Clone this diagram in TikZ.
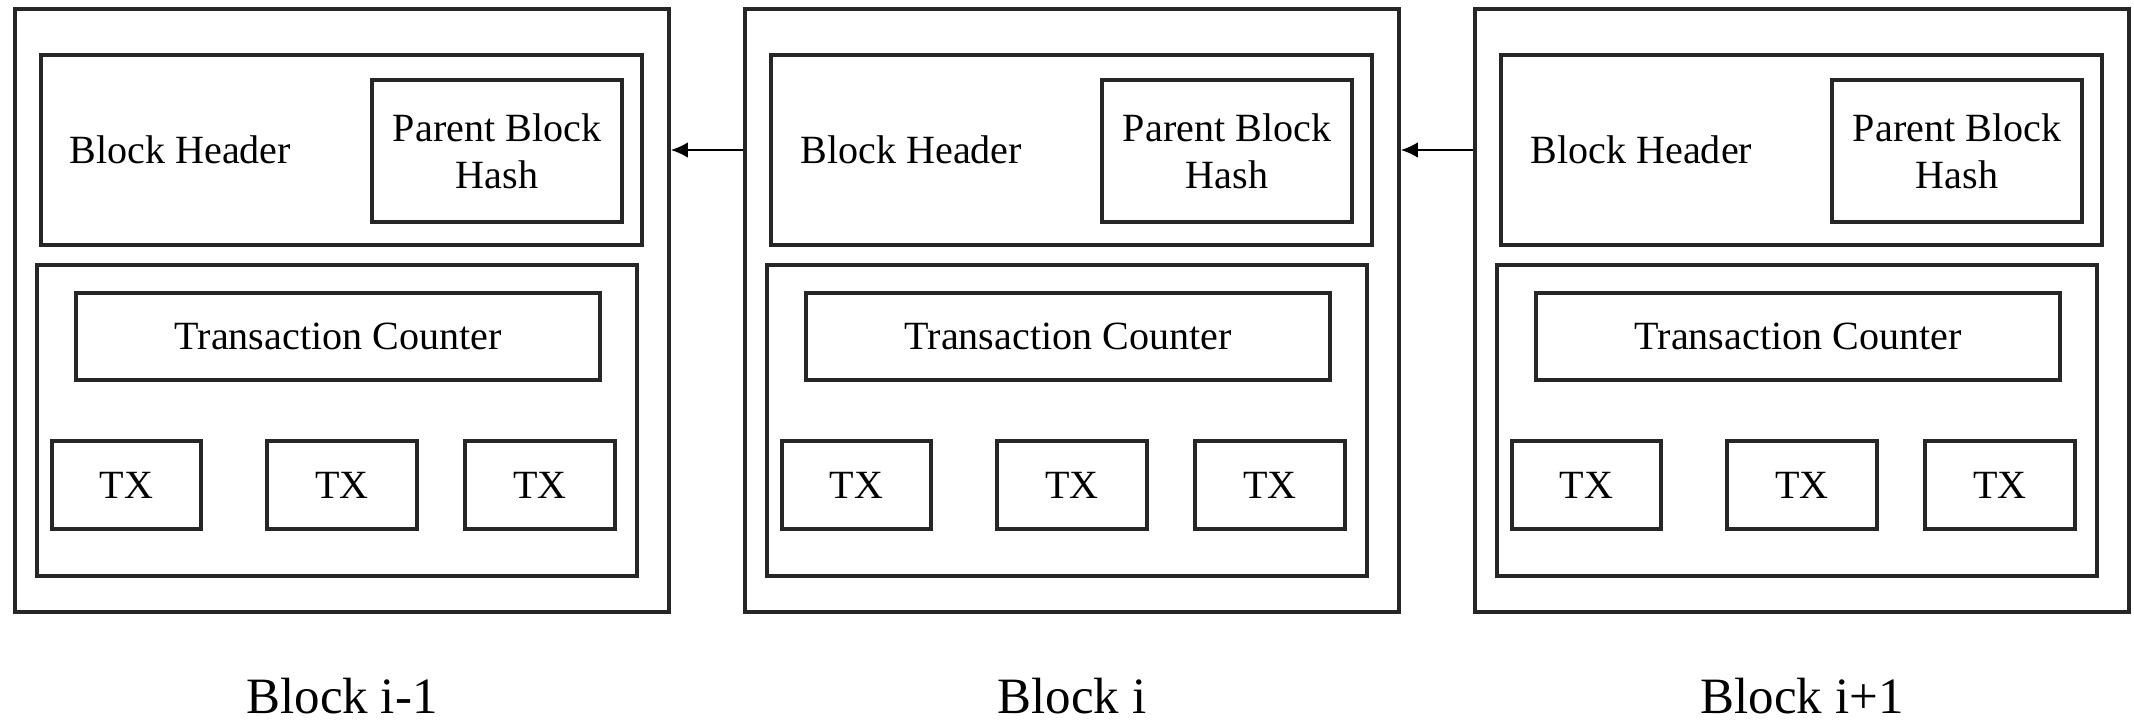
\documentclass[tikz,border=0pt]{standalone}
\usepackage{fontspec}
\setmainfont{Liberation Serif}
\usepackage{tikz}
\usetikzlibrary{arrows.meta}

\begin{document}
\begin{tikzpicture}[
    box/.style={draw=black!85, line width=1.1pt, inner sep=0pt},
    lbl/.style={font=\fontsize{11.4}{13.4}\selectfont, inner sep=0pt},
    blkname/.style={font=\fontsize{14.5}{17}\selectfont, inner sep=0pt, anchor=base},
    link/.style={draw=black, line width=0.5pt, -{Latex[length=4.8pt,width=4.4pt]}}
  ]
    \useasboundingbox (0,0) rectangle (21.34,-7.19);
    % block i-1
    \begin{scope}[shift={(0.15,0)}]
      \node[box, minimum width=6.54cm, minimum height=6.03cm] (blk1) at (3.27,-3.105) {};
      \node[box, minimum width=6.01cm, minimum height=1.90cm] (hdr1) at (3.265,-1.50) {};
      \node[lbl, anchor=west] (hdrtxt1) at (0.54,-1.50) {Block Header};
      \node[box, lbl, minimum width=2.50cm, minimum height=1.42cm, align=center]
        (hash1) at (4.82,-1.51) {Parent Block\\Hash};
      \node[box, minimum width=6.00cm, minimum height=3.11cm] (body1) at (3.22,-4.205) {};
      \node[box, lbl, minimum width=5.24cm, minimum height=0.87cm]
        (cnt1) at (3.23,-3.365) {Transaction Counter};
      \node[box, lbl, minimum width=1.49cm, minimum height=0.88cm] (txa1) at (1.115,-4.85) {TX};
      \node[box, lbl, minimum width=1.50cm, minimum height=0.88cm] (txb1) at (3.27,-4.85) {TX};
      \node[box, lbl, minimum width=1.50cm, minimum height=0.88cm] (txc1) at (5.25,-4.85) {TX};
      \node[blkname] (name1) at (3.27,-7.13) {Block i-1};
    \end{scope}
    % block i
    \begin{scope}[shift={(7.45,0)}]
      \node[box, minimum width=6.54cm, minimum height=6.03cm] (blk2) at (3.27,-3.105) {};
      \node[box, minimum width=6.01cm, minimum height=1.90cm] (hdr2) at (3.265,-1.50) {};
      \node[lbl, anchor=west] (hdrtxt2) at (0.55,-1.50) {Block Header};
      \node[box, lbl, minimum width=2.50cm, minimum height=1.42cm, align=center]
        (hash2) at (4.82,-1.51) {Parent Block\\Hash};
      \node[box, minimum width=6.00cm, minimum height=3.11cm] (body2) at (3.22,-4.205) {};
      \node[box, lbl, minimum width=5.24cm, minimum height=0.87cm]
        (cnt2) at (3.23,-3.365) {Transaction Counter};
      \node[box, lbl, minimum width=1.49cm, minimum height=0.88cm] (txa2) at (1.115,-4.85) {TX};
      \node[box, lbl, minimum width=1.50cm, minimum height=0.88cm] (txb2) at (3.27,-4.85) {TX};
      \node[box, lbl, minimum width=1.50cm, minimum height=0.88cm] (txc2) at (5.25,-4.85) {TX};
      \node[blkname] (name2) at (3.27,-7.13) {Block i};
    \end{scope}
    % block i+1
    \begin{scope}[shift={(14.75,0)}]
      \node[box, minimum width=6.54cm, minimum height=6.03cm] (blk3) at (3.27,-3.105) {};
      \node[box, minimum width=6.01cm, minimum height=1.90cm] (hdr3) at (3.265,-1.50) {};
      \node[lbl, anchor=west] (hdrtxt3) at (0.55,-1.50) {Block Header};
      \node[box, lbl, minimum width=2.50cm, minimum height=1.42cm, align=center]
        (hash3) at (4.82,-1.51) {Parent Block\\Hash};
      \node[box, minimum width=6.00cm, minimum height=3.11cm] (body3) at (3.22,-4.205) {};
      \node[box, lbl, minimum width=5.24cm, minimum height=0.87cm]
        (cnt3) at (3.23,-3.365) {Transaction Counter};
      \node[box, lbl, minimum width=1.49cm, minimum height=0.88cm] (txa3) at (1.115,-4.85) {TX};
      \node[box, lbl, minimum width=1.50cm, minimum height=0.88cm] (txb3) at (3.27,-4.85) {TX};
      \node[box, lbl, minimum width=1.50cm, minimum height=0.88cm] (txc3) at (5.25,-4.85) {TX};
      \node[blkname] (name3) at (3.27,-7.13) {Block i+1};
    \end{scope}
    % links to the parent
    \draw[link] (hdr2 -| blk2.west) -- (hdr2 -| blk1.east);
    \draw[link] (hdr3 -| blk3.west) -- (hdr3 -| blk2.east);
  \end{tikzpicture}
\end{document}
